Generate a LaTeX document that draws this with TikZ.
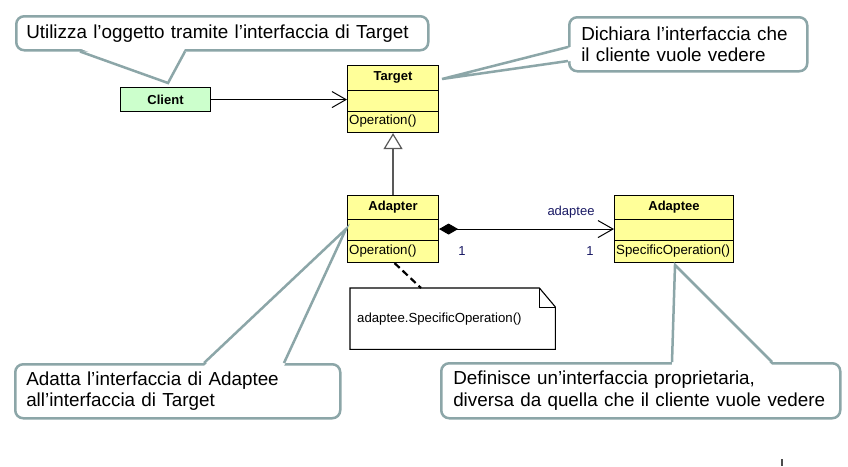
\documentclass[tikz,border=0pt]{standalone}
\usepackage{fontspec}
\setmainfont{Liberation Sans}
\usetikzlibrary{arrows.meta}
\definecolor{callgray}{RGB}{140,166,168}
\definecolor{clsyellow}{RGB}{255,255,153}
\definecolor{clientgreen}{RGB}{204,255,204}
\definecolor{multblue}{RGB}{25,25,100}
\tikzset{
  callout/.style={draw=callgray, line width=2.5pt, fill=white, rounded corners=8pt,
    anchor=north west, align=left, font=\fontsize{18.85}{21.5}\selectfont, inner ysep=0pt},
  pointer/.style={draw=callgray, line width=2.5pt, line join=miter},
  clsbox/.style={draw=black, line width=1.1pt, fill=clsyellow, anchor=north west, inner sep=0pt},
  clsline/.style={draw=black, line width=1pt},
  clsname/.style={font=\fontsize{13}{15}\selectfont\bfseries, inner sep=0pt},
  clsop/.style={font=\fontsize{13.3}{15}\selectfont, inner sep=0pt, anchor=west},
  mult/.style={font=\fontsize{13}{15}\selectfont, text=multblue, inner sep=0pt},
  assoc/.style={-{Straight Barb[length=14pt,width=16pt]}, line width=1pt},
  gen/.style={-{Triangle[open,length=16pt,width=19pt,fill=white]}, line width=1.2pt, draw=black!65},
  compo/.style={{Diamond[length=19pt,width=11pt]}-{Straight Barb[length=15pt,width=17pt]}, line width=1pt},
  notelink/.style={line width=2.2pt, dash pattern=on 7pt off 4pt},
}
\begin{document}
\begin{tikzpicture}[x=1pt,y=-1pt]
\useasboundingbox[fill=white] (0,0) rectangle (848,466);

% ---- classes ----
\node[clsbox, minimum width=91pt, minimum height=67pt] (target) at (347,65) {};
\draw[clsline] ([yshift=-25pt]target.north west) -- ([yshift=-25pt]target.north east);
\draw[clsline] ([yshift=-46pt]target.north west) -- ([yshift=-46pt]target.north east);
\node[clsname] (targetname) at ([yshift=-12.5pt]target.north) {Target};
\node[clsop] (targetop) at ([yshift=-56.5pt,xshift=2pt]target.north west) {Operation()};

\node[clsbox, minimum width=91pt, minimum height=67pt] (adapter) at (347,195) {};
\draw[clsline] ([yshift=-24pt]adapter.north west) -- ([yshift=-24pt]adapter.north east);
\draw[clsline] ([yshift=-45pt]adapter.north west) -- ([yshift=-45pt]adapter.north east);
\node[clsname] (adaptername) at ([yshift=-12pt]adapter.north) {Adapter};
\node[clsop] (adapterop) at ([yshift=-56pt,xshift=2pt]adapter.north west) {Operation()};

\node[clsbox, minimum width=119pt, minimum height=67pt] (adaptee) at (614,195) {};
\draw[clsline] ([yshift=-24pt]adaptee.north west) -- ([yshift=-24pt]adaptee.north east);
\draw[clsline] ([yshift=-45pt]adaptee.north west) -- ([yshift=-45pt]adaptee.north east);
\node[clsname] (adapteename) at ([yshift=-12pt]adaptee.north) {Adaptee};
\node[clsop] (adapteeop) at ([yshift=-56pt,xshift=2pt]adaptee.north west) {SpecificOperation()};

\node[draw=black, line width=1.1pt, fill=clientgreen, minimum width=90pt, minimum height=24pt,
  anchor=north west, inner sep=0pt, font=\fontsize{13}{15}\selectfont\bfseries] (client) at (120,87) {Client};

% ---- connectors ----
\draw[assoc] (client.east) -- (client.east -| target.west);
\draw[gen] (adapter.north) -- (target.south);
\draw[compo] (adapter.east) -- (adaptee.west);
\node[mult] (role) at (571,212) {adaptee};
\node[mult] (m1) at (462,251) {1};
\node[mult] (m2) at (590,251) {1};

% ---- note ----
\node[anchor=north west, minimum width=205pt, minimum height=61pt, text width=191pt, inner xsep=7pt,
  align=left, font=\fontsize{13.2}{15}\selectfont] (note) at (350,288) {adaptee.SpecificOperation()};
\draw[line width=1.1pt] (note.north west) -- ([xshift=-16pt]note.north east) -- ([yshift=-19pt]note.north east)
  -- (note.south east) -- (note.south west) -- cycle;
\draw[line width=1pt] ([xshift=-16pt]note.north east) |- ([yshift=-19pt]note.north east);
\draw[notelink] ([xshift=1.5pt]adapter.south) -- ([xshift=71pt]note.north west);

% ---- callouts ----
\node[callout, text width=392pt, inner xsep=10pt, minimum height=34pt] (c1) at (15,15)
  {Utilizza l’oggetto tramite l’interfaccia di Target};
\coordinate (t1) at (168,83);
\fill[white] ([xshift=65pt,yshift=3pt]c1.south west) -- (t1) -- ([xshift=170pt,yshift=3pt]c1.south west) -- cycle;
\draw[pointer] ([xshift=65pt]c1.south west) -- (t1) -- ([xshift=170pt]c1.south west);

\node[callout, text width=214pt, inner xsep=12pt, minimum height=54pt] (c2) at (568,16)
  {Dichiara l’interfaccia che\\il cliente vuole vedere};
\coordinate (t2) at (442,79);
\fill[white] ([yshift=-31pt,xshift=3pt]c2.north west) -- (t2) -- ([yshift=-45pt,xshift=3pt]c2.north west) -- cycle;
\draw[pointer] ([yshift=-31pt]c2.north west) -- (t2) -- ([yshift=-45pt]c2.north west);

\node[callout, text width=303pt, inner xsep=11pt, minimum height=54pt] (c3) at (14,363)
  {Adatta l’interfaccia di Adaptee\\all’interfaccia di Target};
\coordinate (t3) at (346,229);
\fill[white] ([xshift=190pt,yshift=-3pt]c3.north west) -- (t3) -- ([xshift=270pt,yshift=-3pt]c3.north west) -- cycle;
\draw[pointer] ([xshift=190pt]c3.north west) -- (t3) -- ([xshift=270pt]c3.north west);

\node[callout, text width=375pt, inner xsep=12pt, minimum height=55pt] (c4) at (440,362)
  {Definisce un’interfaccia proprietaria,\\diversa da quella che il cliente vuole vedere};
\coordinate (t4) at (675,265);
\fill[white] ([xshift=232pt,yshift=-3pt]c4.north west) -- (t4) -- ([xshift=332pt,yshift=-3pt]c4.north west) -- cycle;
\draw[pointer] ([xshift=232pt]c4.north west) -- (t4) -- ([xshift=332pt]c4.north west);

% ---- small mark ----
\draw[line width=2pt, black!70] (782,459) -- (782,466);
\end{tikzpicture}
\end{document}
